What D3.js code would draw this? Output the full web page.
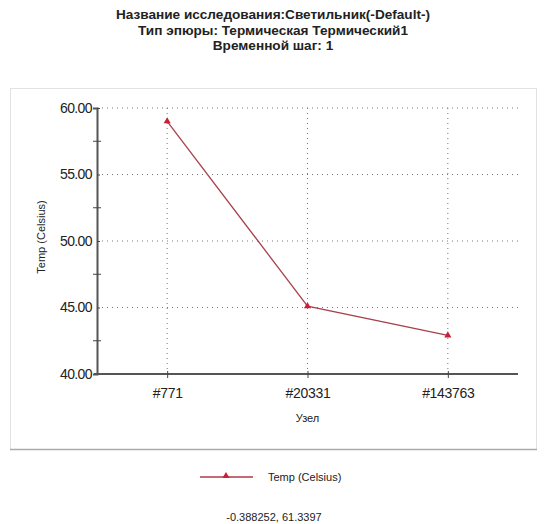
<!DOCTYPE html>
<html>
<head>
<meta charset="utf-8">
<script src="https://cdn.jsdelivr.net/npm/d3@7"></script>
<style>
  body { margin: 0; background: #fff; }
  text { font-family: "Liberation Sans", Arial, sans-serif; fill: #222; }
</style>
</head>
<body>
<div id="chart-area"></div>
<script>
const titleLines = [
  'Название исследования:Светильник(-Default-)',
  'Тип эпюры: Термическая Термический1',
  'Временной шаг: 1'
];
const nodes = ['#771', '#20331', '#143763'];
const temps = [59.0, 45.1, 42.9];
const yTicks = [40, 45, 50, 55, 60];
const yMinor = [42.5, 47.5, 52.5, 57.5];
const seriesName = 'Temp (Celsius)';
const xTitle = 'Узел';
const cursorText = '-0.388252, 61.3397';

const W = 547, H = 524;
const MARGIN = { LEFT: 97, RIGHT: 29, TOP: 108, BOTTOM: 150 };

const svg = d3.select('#chart-area').append('svg')
  .attr('width', W)
  .attr('height', H);

// chart panel border
svg.append('rect')
  .attr('x', 10.5).attr('y', 88.5)
  .attr('width', 526).attr('height', 361)
  .attr('fill', 'none')
  .attr('stroke', '#e2e2e2');
svg.append('line')
  .attr('x1', 10).attr('x2', 537)
  .attr('y1', 449.5).attr('y2', 449.5)
  .attr('stroke', '#aaa').attr('stroke-width', 1.5);

svg.selectAll('.title').data(titleLines).enter().append('text')
  .attr('class', 'title')
  .attr('x', 273)
  .attr('y', (d, i) => 19 + i * 15.5)
  .attr('text-anchor', 'middle')
  .attr('font-size', 13.6)
  .attr('font-weight', 'bold')
  .text(d => d);

const innerW = W - MARGIN.LEFT - MARGIN.RIGHT;
const plotH = 374 - MARGIN.TOP;

const x = d3.scalePoint().domain(nodes).range([0, innerW]).padding(0.5);
const y = d3.scaleLinear().domain([40, 60]).range([plotH, 0]);

const g = svg.append('g')
  .attr('transform', `translate(${MARGIN.LEFT}, ${MARGIN.TOP})`);

// grid
g.selectAll('.hgrid').data(yTicks.slice(1)).enter().append('line')
  .attr('x1', 0).attr('x2', innerW)
  .attr('y1', d => y(d)).attr('y2', d => y(d))
  .attr('stroke', '#777').attr('stroke-dasharray', '1,4');
g.selectAll('.vgrid').data(nodes).enter().append('line')
  .attr('x1', d => x(d)).attr('x2', d => x(d))
  .attr('y1', 0).attr('y2', plotH)
  .attr('stroke', '#777').attr('stroke-dasharray', '1,4');

// y axis
const yAxis = g.append('g')
  .call(d3.axisLeft(y).tickValues(yTicks).tickFormat(d3.format('.2f')).tickSize(4));
yAxis.select('.domain').attr('stroke', '#555').attr('stroke-width', 2);
yAxis.selectAll('.tick line').attr('stroke', '#444').attr('x2', 3);
yAxis.selectAll('.tick text')
  .attr('font-size', 14).attr('x', -5).attr('fill', '#333')
  .attr('font-family', '"Liberation Sans", Arial, sans-serif')
  .attr('letter-spacing', -0.6);
g.selectAll('.minor').data(yMinor).enter().append('line')
  .attr('x1', -4).attr('x2', 4)
  .attr('y1', d => y(d)).attr('y2', d => y(d))
  .attr('stroke', '#444');

// x axis
const xAxis = g.append('g')
  .attr('transform', `translate(0, ${plotH})`)
  .call(d3.axisBottom(x).tickSize(4).tickSizeOuter(0));
xAxis.select('.domain').attr('stroke', '#555').attr('stroke-width', 2)
  .attr('d', `M-3,0H${innerW}`);
xAxis.selectAll('.tick line').attr('stroke', '#444').attr('y1', -3);
xAxis.selectAll('.tick text')
  .attr('font-size', 14).attr('y', 14).attr('fill', '#333')
  .attr('font-family', '"Liberation Sans", Arial, sans-serif')
  .attr('letter-spacing', -0.3);

svg.append('text')
  .attr('x', MARGIN.LEFT + x(nodes[1]))
  .attr('y', 422)
  .attr('text-anchor', 'middle')
  .attr('font-size', 11)
  .text(xTitle);

svg.append('text')
  .attr('transform', `translate(45, ${MARGIN.TOP + plotH / 2 - 4}) rotate(-90)`)
  .attr('text-anchor', 'middle')
  .attr('font-size', 11)
  .text(seriesName);

// series
const line = d3.line()
  .x((d, i) => x(nodes[i]))
  .y(d => y(d));
g.append('path')
  .datum(temps)
  .attr('d', line)
  .attr('fill', 'none')
  .attr('stroke', '#a8404c')
  .attr('stroke-width', 1.3);

const tri = d3.symbol().type(d3.symbolTriangle).size(22);
g.selectAll('.pt').data(temps).enter().append('path')
  .attr('transform', (d, i) => `translate(${x(nodes[i])}, ${y(d)})`)
  .attr('d', tri)
  .attr('fill', '#c8203a');

// legend
svg.append('line')
  .attr('x1', 200).attr('x2', 253)
  .attr('y1', 477).attr('y2', 477)
  .attr('stroke', '#b03a48').attr('stroke-width', 1.3);
svg.append('path')
  .attr('transform', 'translate(226, 476)')
  .attr('d', tri)
  .attr('fill', '#c8203a');
svg.append('text')
  .attr('x', 268).attr('y', 481)
  .attr('font-size', 11)
  .text(seriesName);

svg.append('text')
  .attr('x', 274).attr('y', 521)
  .attr('text-anchor', 'middle')
  .attr('font-size', 11)
  .text(cursorText);
</script>
</body>
</html>
